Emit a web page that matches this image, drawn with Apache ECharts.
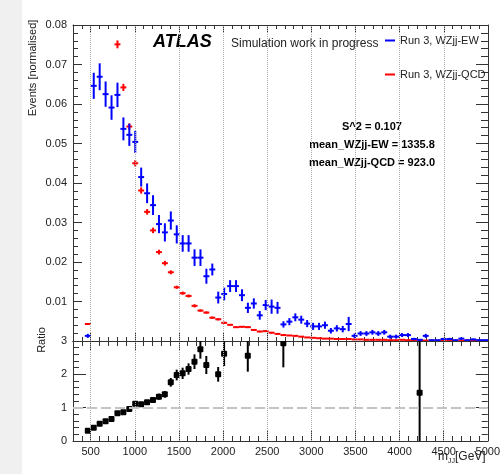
<!DOCTYPE html>
<html>
<head>
<meta charset="utf-8">
<script src="https://cdn.jsdelivr.net/npm/echarts@6/dist/echarts.min.js"></script>
<style>
  html, body { margin: 0; padding: 0; background: #fff; }
  #WZjj { width: 503px; height: 474px; }
</style>
</head>
<body>
<div id="WZjj"></div>
<script>
// histogram binning: 70 bins from 300 to 5000 GeV
var xLo = 300, xHi = 5000, nBins = 70;
var binW = (xHi - xLo) / nBins;

// normalised m_jj distributions (null = empty bin)
var ew = [null, null, 0.0013, 0.0646, 0.0669, 0.0625, 0.0591, 0.0623, 0.0537, 0.0522,
  0.0504, 0.0415, 0.0374, 0.0344, 0.0296, 0.0275, 0.0305, 0.0270, 0.0247, 0.0247,
  0.0211, 0.0211, 0.0164, 0.0181, 0.0110, 0.0119, 0.0139, 0.0139, 0.0116, 0.0084,
  0.0095, 0.0065, 0.0091, 0.0087, 0.0084, 0.0042, 0.0049, 0.0060, 0.0054, 0.0044,
  0.0037, 0.0037, 0.0040, 0.0026, 0.0032, 0.0030, 0.0043, 0.0013, 0.0019, 0.0019,
  0.0022, 0.0019, 0.0022, 0.0011, 0.0011, 0.0015, 0.0015, 0.0005, 0.0003, 0.0013,
  0.0002, 0.0002, 0.0005, 0.0005, 0.0002, 0.0006, 0.0002, 0.0004, 0.0002, 0.0002];
var ewErr = [0, 0, 0.0005, 0.0033, 0.0034, 0.0032, 0.0031, 0.0031, 0.0029, 0.0028,
  0.0028, 0.0024, 0.0025, 0.0025, 0.0023, 0.0023, 0.0023, 0.0023, 0.0021, 0.0021,
  0.0021, 0.0021, 0.0019, 0.0015, 0.0015, 0.0016, 0.0015, 0.0015, 0.0015, 0.0013,
  0.0013, 0.0011, 0.0013, 0.0018, 0.0015, 0.0008, 0.0009, 0.0010, 0.0010, 0.0009,
  0.0009, 0.0009, 0.0009, 0.0007, 0.0008, 0.0008, 0.0018, 0.0006, 0.0006, 0.0006,
  0.0006, 0.0006, 0.0006, 0.0005, 0.0005, 0.0005, 0.0005, 0.0003, 0.0002, 0.0005,
  0.0001, 0.0001, 0.0003, 0.0003, 0.0001, 0.0003, 0.0001, 0.0002, 0.0001, 0.0001];

var qcd = [null, null, 0.0043, 0.161, 0.129, 0.106, 0.0895, 0.0751, 0.0642, 0.0543,
  0.0450, 0.0381, 0.0327, 0.0280, 0.0225, 0.0197, 0.0174, 0.0136, 0.0121, 0.0114,
  0.0089, 0.0077, 0.0072, 0.0059, 0.0055, 0.0046, 0.0041, 0.0035, 0.0036, 0.0035,
  0.0028, 0.0024, 0.0025, 0.0021, 0.0018, 0.0015, 0.0014, 0.0013, 0.0011, 0.0009,
  0.0008, 0.0007, 0.0006, 0.0006, 0.0005, 0.0005, 0.0005, 0.0004, 0.0004, 0.0003,
  0.0003, 0.0003, 0.0003, 0.0002, 0.0002, 0.0003, 0.0002, 0.0002, 0.0002, 0.0001,
  0.0001, 0.0001, 0.0001, 0.0001, 0.0001, 0.0001, 0.0001, 0.0001, 0.0001, 0.0001];
var qcdErr = [0, 0, 0.0002, 0.002, 0.0015, 0.0013, 0.0011, 0.0010, 0.0009, 0.0008,
  0.0008, 0.0008, 0.0007, 0.0007, 0.0006, 0.0006, 0.0005, 0.0004, 0.0004, 0.0004,
  0.0004, 0.0003, 0.0003, 0.0003, 0.0003, 0.0003, 0.0002, 0.0002, 0.0002, 0.0002,
  0.0002, 0.0002, 0.0002, 0.0002, 0.0002, 0.0002, 0.0001, 0.0001, 0.0001, 0.0001,
  0.0001, 0.0001, 0.0001, 0.0001, 0.0001, 0.0001, 0.0001, 0.0001, 0.0001, 0.0001,
  0.0001, 0.0001, 0.0001, 0.0001, 0.0001, 0.0001, 0.0001, 0.0001, 0.0001, 0.0001,
  0.0001, 0.0001, 0.0001, 0.0001, 0.0001, 0.0001, 0.0001, 0.0001, 0.0001, 0.0001];

// EW / QCD ratio as drawn in the lower pad
var ratio = [null, null, 0.31, 0.40, 0.52, 0.59, 0.66, 0.83, 0.86, 0.96,
  1.12, 1.10, 1.16, 1.23, 1.33, 1.40, 1.76, 1.98, 2.03, 2.16,
  2.38, 2.75, 2.28, null, 2.00, 2.62, null, null, null, 2.56,
  null, null, null, null, null, 2.93, null, null, null, null,
  null, null, null, null, null, null, null, null, null, null,
  null, null, null, null, null, null, null, null, 1.45, null,
  null, null, null, null, null, null, null, null, null, null];
var ratioErr = [0, 0, 0.04, 0.03, 0.03, 0.03, 0.04, 0.04, 0.05, 0.05,
  0.06, 0.06, 0.07, 0.08, 0.09, 0.10, 0.13, 0.16, 0.17, 0.17,
  0.22, 0.28, 0.27, 0, 0.22, 0.37, 0, 0, 0, 0.48,
  0, 0, 0, 0, 0, 0.72, 0, 0, 0, 0,
  0, 0, 0, 0, 0, 0, 0, 0, 0, 0,
  0, 0, 0, 0, 0, 0, 0, 0, 5.0, 0,
  0, 0, 0, 0, 0, 0, 0, 0, 0, 0];

var majorX = [500, 1000, 1500, 2000, 2500, 3000, 3500, 4000, 4500, 5000];
var gridX = [500, 1000, 1500, 2000, 2500, 3000, 3500, 4000, 4500];

var FONT = "'Liberation Sans', Arial, Helvetica, sans-serif";
var AXCOL = '#333';

function toPoints(vals, errs) {
  var out = [];
  vals.forEach(function (v, i) {
    if (v == null) return;
    out.push([xLo + (i + 0.5) * binW, v, errs[i]]);
  });
  return out;
}

function errorCross(color) {
  return function (params, api) {
    var x = api.value(0), y = api.value(1), e = api.value(2);
    var l = api.coord([x - binW / 2, y]);
    var r = api.coord([x + binW / 2, y]);
    var t = api.coord([x, y + e]);
    var b = api.coord([x, y - e]);
    var st = { stroke: color, lineWidth: 2 };
    return {
      type: 'group',
      children: [
        { type: 'line', shape: { x1: l[0], y1: l[1], x2: r[0], y2: r[1] }, style: st },
        { type: 'line', shape: { x1: t[0], y1: t[1], x2: b[0], y2: b[1] }, style: st }
      ]
    };
  };
}

function ratioMarker(params, api) {
  var x = api.value(0), y = api.value(1), e = api.value(2);
  var c = api.coord([x, y]);
  var t = api.coord([x, y + e]);
  var b = api.coord([x, y - e]);
  return {
    type: 'group',
    children: [
      { type: 'line', shape: { x1: t[0], y1: t[1], x2: b[0], y2: b[1] }, style: { stroke: '#000', lineWidth: 2 } },
      { type: 'rect', shape: { x: c[0] - 3, y: c[1] - 3, width: 6, height: 6, r: 1 }, style: { fill: '#000' } }
    ]
  };
}

// vertical grid lines between ymin and ymax of a pad
function vLines(ymax) {
  return gridX.map(function (v) {
    return [{ xAxis: v, yAxis: 0 }, { xAxis: v, yAxis: ymax }];
  });
}

// x axis helper: one axis per tick family (minor every 100, major every 500)
function xAx(grid, pos, major, len, labels) {
  var ax = {
    type: 'value', gridIndex: grid, position: pos, min: xLo, max: xHi,
    axisLine: { show: !major, onZero: false, lineStyle: { color: AXCOL, width: 1 } },
    axisTick: { show: true, inside: true, length: len, lineStyle: { color: AXCOL } },
    axisLabel: { show: false },
    splitLine: { show: false }
  };
  if (major) {
    ax.axisTick.customValues = majorX;
    if (labels) {
      ax.axisLabel = {
        show: true, customValues: majorX, margin: 5, color: '#222', fontSize: 11, fontFamily: FONT,
        formatter: function (v) { return String(v); }
      };
    }
  } else {
    ax.interval = 100;
  }
  return ax;
}

function yAx(grid, pos, max, interval, len, minorLen, labels, fmt) {
  return {
    type: 'value', gridIndex: grid, position: pos, min: 0, max: max, interval: interval,
    axisLine: { show: true, onZero: false, lineStyle: { color: AXCOL, width: 1 } },
    axisTick: { show: true, inside: true, length: len, lineStyle: { color: AXCOL } },
    minorTick: { show: true, splitNumber: 5, length: minorLen, lineStyle: { color: AXCOL } },
    axisLabel: labels ? { show: true, margin: 6, color: '#222', fontSize: 11, fontFamily: FONT, formatter: fmt } : { show: false },
    splitLine: { show: false }
  };
}

var myChart = echarts.init(document.getElementById('WZjj'));

var option = {
  backgroundColor: '#fff',
  animation: false,
  grid: [
    { left: 73, top: 25, width: 415, height: 316 },
    { left: 73, top: 341, width: 415, height: 100 }
  ],
  xAxis: [
    xAx(0, 'bottom', false, 4),
    xAx(0, 'bottom', true, 8),
    xAx(0, 'top', false, 4),
    xAx(0, 'top', true, 8),
    xAx(1, 'bottom', false, 5),
    xAx(1, 'bottom', true, 10, true),
    xAx(1, 'top', false, 5),
    xAx(1, 'top', true, 10)
  ],
  yAxis: [
    yAx(0, 'left', 0.08, 0.01, 9, 5, true, function (v) { return v === 0 ? '' : v.toFixed(2); }),
    yAx(0, 'right', 0.08, 0.01, 12, 7, false),
    yAx(1, 'left', 3, 1, 13, 6, true, function (v) { return String(v); }),
    yAx(1, 'right', 3, 1, 12, 6, false)
  ],
  legend: {
    data: ['Run 3, WZjj-EW', 'Run 3, WZjj-QCD'],
    orient: 'vertical',
    left: 385, top: 35,
    itemGap: 23, itemWidth: 10, itemHeight: 2,
    icon: 'rect', padding: 0,
    textStyle: { fontSize: 11, color: '#222', fontFamily: FONT }
  },
  graphic: [
    { type: 'rect', left: 0, top: 0, z: -10, shape: { width: 22, height: 474 }, style: { fill: '#f0f0f0' } },
    { type: 'text', x: 153, y: 42, style: { text: 'ATLAS', font: 'italic bold 18px ' + FONT, fill: '#000', textVerticalAlign: 'middle' } },
    { type: 'text', x: 231, y: 44, style: { text: 'Simulation work in progress', font: '12px ' + FONT, fill: '#222', textVerticalAlign: 'middle' } },
    { type: 'text', x: 372, y: 127, style: { text: 'S^2 = 0.107', font: 'bold 11px ' + FONT, fill: '#000', textAlign: 'center', textVerticalAlign: 'middle' } },
    { type: 'text', x: 372, y: 145, style: { text: 'mean_WZjj-EW = 1335.8', font: 'bold 11px ' + FONT, fill: '#000', textAlign: 'center', textVerticalAlign: 'middle' } },
    { type: 'text', x: 372, y: 163, style: { text: 'mean_WZjj-QCD = 923.0', font: 'bold 11px ' + FONT, fill: '#000', textAlign: 'center', textVerticalAlign: 'middle' } },
    { type: 'text', x: 33, y: 68, rotation: Math.PI / 2, style: { text: 'Events [normalised]', font: '11px ' + FONT, fill: '#222', textAlign: 'center', textVerticalAlign: 'middle' } },
    { type: 'text', x: 42, y: 340, rotation: Math.PI / 2, style: { text: 'Ratio', font: '11px ' + FONT, fill: '#222', textAlign: 'center', textVerticalAlign: 'middle' } },
    { type: 'text', x: 438, y: 457, style: { text: 'm', font: '12px ' + FONT, fill: '#222', textVerticalAlign: 'middle' } },
    { type: 'text', x: 448, y: 461, style: { text: 'JJ', font: '7px ' + FONT, fill: '#222', textVerticalAlign: 'middle' } },
    { type: 'text', x: 455, y: 457, style: { text: '[GeV]', font: '12px ' + FONT, fill: '#222', textVerticalAlign: 'middle' } }
  ],
  series: [
    {
      // vertical dotted grid lines, upper pad
      type: 'line', xAxisIndex: 0, yAxisIndex: 0, data: [], z: 1,
      markLine: {
        silent: true, symbol: 'none', label: { show: false },
        lineStyle: { color: '#aaa', type: 'dotted', width: 1 },
        data: vLines(0.08)
      }
    },
    {
      // vertical dotted grid lines and unity line, ratio pad
      type: 'line', xAxisIndex: 4, yAxisIndex: 2, data: [], z: 1,
      markLine: {
        silent: true, symbol: 'none', label: { show: false },
        lineStyle: { color: '#aaa', type: 'dotted', width: 1 },
        data: vLines(3).concat([
          { yAxis: 1, lineStyle: { color: '#c4c4c4', type: [10, 4], width: 2 } }
        ])
      }
    },
    {
      name: 'Run 3, WZjj-QCD', type: 'custom', xAxisIndex: 0, yAxisIndex: 0, z: 3,
      clip: true, itemStyle: { color: '#ff0000' },
      renderItem: errorCross('#ff0000'),
      encode: { x: 0, y: 1 },
      data: toPoints(qcd, qcdErr)
    },
    {
      name: 'Run 3, WZjj-EW', type: 'custom', xAxisIndex: 0, yAxisIndex: 0, z: 4,
      clip: true, itemStyle: { color: '#0000ff' },
      renderItem: errorCross('#0000ff'),
      encode: { x: 0, y: 1 },
      data: toPoints(ew, ewErr)
    },
    {
      name: 'Ratio', type: 'custom', xAxisIndex: 4, yAxisIndex: 2, z: 4,
      clip: true, itemStyle: { color: '#000' },
      renderItem: ratioMarker,
      encode: { x: 0, y: 1 },
      data: toPoints(ratio, ratioErr)
    }
  ]
};

myChart.setOption(option);
</script>
</body>
</html>
